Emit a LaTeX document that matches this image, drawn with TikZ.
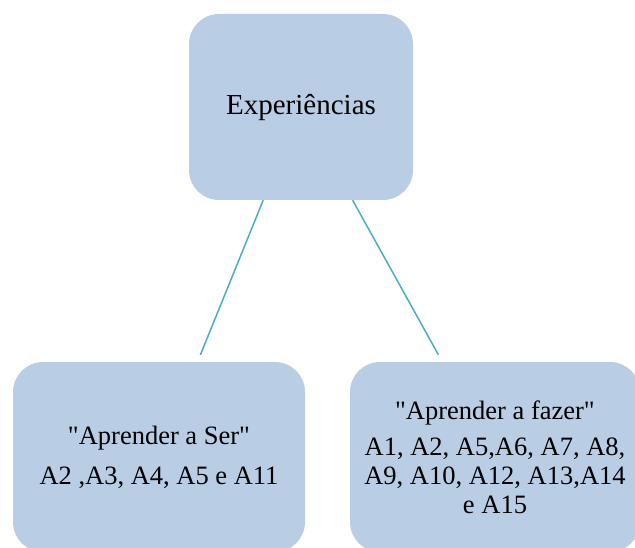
\documentclass[tikz,border=0pt]{standalone}
\usepackage{fontspec}
\setmainfont{Liberation Serif}
\definecolor{boxfill}{HTML}{B9CDE5}
\definecolor{linkcol}{HTML}{4BACC6}
\begin{document}
\begin{tikzpicture}[x=1pt,y=-1pt]
\tikzset{
  box/.style={fill=boxfill, draw=none, rounded corners=30pt, inner sep=0pt,
    font=\fontsize{26.5}{29}\selectfont, align=center, text=black},
  link/.style={draw=linkcol, line width=1.5pt}
}
\useasboundingbox (0,0) rectangle (635,548);
\node[box, minimum width=224pt, minimum height=186pt, font=\fontsize{29}{32}\selectfont] (top) at (301,107) {\raisebox{-3pt}{Experiências}};
\node[box, minimum width=292pt, minimum height=190pt] (left) at (159,457)
  {\textquotedbl Aprender a Ser\textquotedbl\\[11pt]A2 ,A3, A4, A5 e A11};
\node[box, minimum width=290pt, minimum height=190pt] (right) at (495,457)
  {\textquotedbl Aprender a fazer\textquotedbl\\[7pt]A1, A2, A5,A6, A7, A8,\\A9, A10, A12, A13,A14\\e A15};
\draw[link, shorten >=7.5pt] (top) -- (left);
\draw[link, shorten >=8pt] (top) -- (right);
\end{tikzpicture}
\end{document}
